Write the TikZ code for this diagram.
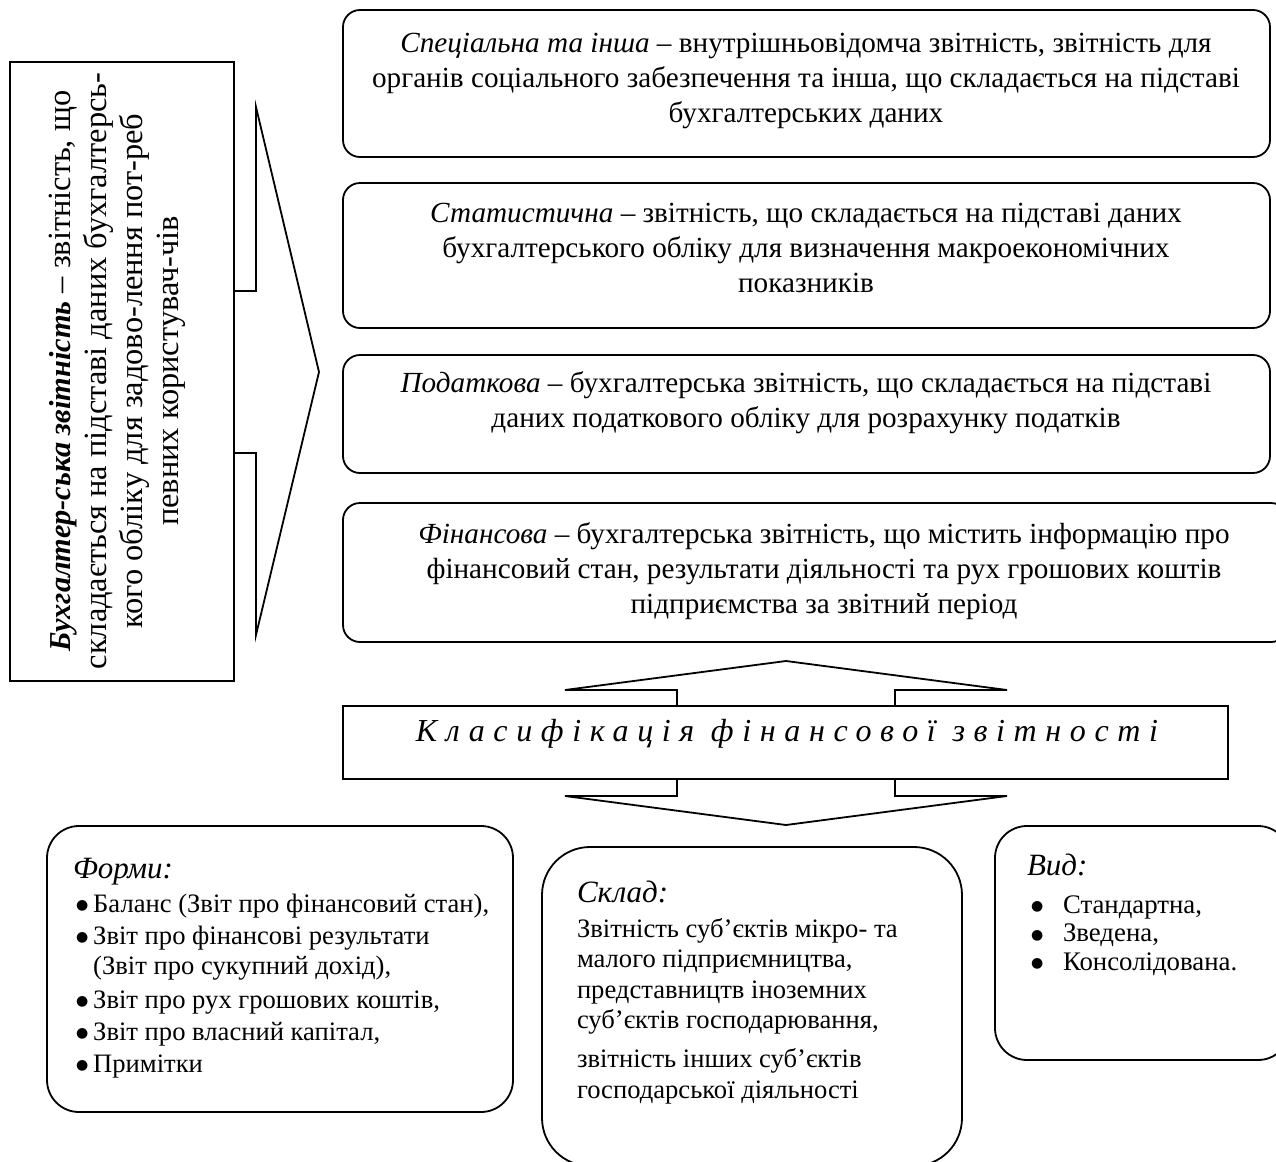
\documentclass[tikz,border=0pt]{standalone}
\usepackage{fontspec}
\setmainfont{Liberation Serif}
\newfontfamily\spacedfont[LetterSpace=27]{Liberation Serif}
\newfontfamily\bulfont{DejaVu Sans}
\newcommand{\bul}{\raisebox{1.2pt}{\fontsize{7}{7}\bulfont ●}}
\begin{document}
\begin{tikzpicture}[x=0.5pt,y=-0.5pt,line width=0.9pt,
  sqbox/.style={draw,rectangle,inner sep=0pt,outer sep=0pt},
  rbox/.style={draw,rectangle,rounded corners=8.5pt,inner sep=0pt,outer sep=0pt},
  bigrbox/.style={draw,rectangle,rounded corners=16pt,inner sep=0pt,outer sep=0pt},
  txt/.style={inner sep=0pt,outer sep=0pt},
  toptext/.style={txt,anchor=base,font=\fontsize{14.6}{17.5}\selectfont},
  title/.style={txt,anchor=base west,font=\fontsize{15.5}{18}\selectfont\itshape},
  listtext/.style={txt,anchor=base west}]
\useasboundingbox (0,0) rectangle (1276,1162);

% left definition box and arrow
\node[sqbox,minimum width=112pt,minimum height=309.5pt] (L) at (122,371.5) {};
\draw (234,291) -- (256,291) -- (256,107) -- (319,372) -- (256,635) -- (256,453) -- (234,453);
\node[txt,rotate=90,font=\fontsize{16.2}{18}\selectfont] (Lt) at (117,371)
  {\begin{tabular}{@{}c@{}}{\fontsize{15.2}{18}\selectfont\textbf{\textit{Бухгалтер-ська звітність}}} – звітність, що\\
   складається на підставі даних бухгалтерсь-\\
   кого обліку для задово-лення пот-реб\\
   певних користувач-чів\end{tabular}};

% right boxes
\node[rbox,minimum width=463.5pt,minimum height=73.5pt] (b1) at (806.5,83.5) {};
\node[rbox,minimum width=463.5pt,minimum height=72.5pt] (b2) at (806.5,255.5) {};
\node[rbox,minimum width=463.5pt,minimum height=59pt] (b3) at (806.5,414) {};
\node[rbox,minimum width=472.5pt,minimum height=69.5pt] (b4) at (815.5,572.5) {};

\node[toptext] (t1) at (806,52) {\begin{tabular}[t]{@{}c@{}}\textit{Спеціальна та інша} – внутрішньовідомча звітність, звітність для\\
  органів соціального забезпечення та інша, що складається на підставі\\
  бухгалтерських даних\end{tabular}};
\node[toptext] (t2) at (806,222) {\begin{tabular}[t]{@{}c@{}}\textit{Статистична} – звітність, що складається на підставі даних\\
  бухгалтерського обліку для визначення макроекономічних\\
  показників\end{tabular}};
\node[toptext] (t3) at (806,392) {\begin{tabular}[t]{@{}c@{}}\textit{Податкова} – бухгалтерська звітність, що складається на підставі\\
  даних податкового обліку для розрахунку податків\end{tabular}};
\node[toptext] (t4) at (824,543) {\begin{tabular}[t]{@{}c@{}}\textit{Фінансова} – бухгалтерська звітність, що містить інформацію про\\
  фінансовий стан, результати діяльності та рух грошових коштів\\
  підприємства за звітний період\end{tabular}};

% classification block
\draw (677,706) -- (677,690) -- (565,690) -- (786,661) -- (1007,690) -- (895,690) -- (895,706);
\node[sqbox,minimum width=442.5pt,minimum height=36.5pt] (C) at (785.5,742.5) {};
\draw (677,779) -- (677,796) -- (565,796) -- (786,825) -- (1007,796) -- (895,796) -- (895,779);
\node[txt,anchor=base,font=\fontsize{16}{18}\spacedfont\itshape] (Ct) at (787,741) {Класифікація фінансової звітності};

% bottom boxes
\node[bigrbox,minimum width=233pt,minimum height=143pt] (F) at (280,969) {};
\node[bigrbox,rounded corners=24pt,minimum width=210pt,minimum height=159.5pt] (S) at (752,1006.5) {};
\node[bigrbox,minimum width=147.5pt,minimum height=117pt] (V) at (1142.5,943) {};

\node[title] (Ft) at (73,878) {Форми:};
\node[listtext,font=\fontsize{13.3}{16}\selectfont] (Fl) at (76,912)
  {\begin{tabular}[t]{@{}l@{\hspace{2.5pt}}l@{}}
   \bul & Баланс (Звіт про фінансовий стан),\\
   \bul & Звіт про фінансові результати\\[-1pt]
        & (Звіт про сукупний дохід),\\[1pt]
   \bul & Звіт про рух грошових коштів,\\
   \bul & Звіт про власний капітал,\\
   \bul & Примітки\end{tabular}};

\node[title] (St) at (577,902) {Склад:};
\node[listtext,font=\fontsize{13.3}{15.25}\selectfont] (Sl) at (577,937)
  {\begin{tabular}[t]{@{}l@{}}
   Звітність суб’єктів мікро- та\\
   малого підприємництва,\\
   представництв іноземних\\
   суб’єктів господарювання,\\[4.25pt]
   звітність інших суб’єктів\\
   господарської діяльності\end{tabular}};

\node[title] (Vt) at (1027,875) {Вид:};
\node[listtext,font=\fontsize{13.4}{14.25}\selectfont] (Vl) at (1031,913)
  {\begin{tabular}[t]{@{}p{16pt}@{}l@{}}
   \bul & Стандартна,\\
   \bul & Зведена,\\
   \bul & Консолідована.\end{tabular}};
\end{tikzpicture}
\end{document}
